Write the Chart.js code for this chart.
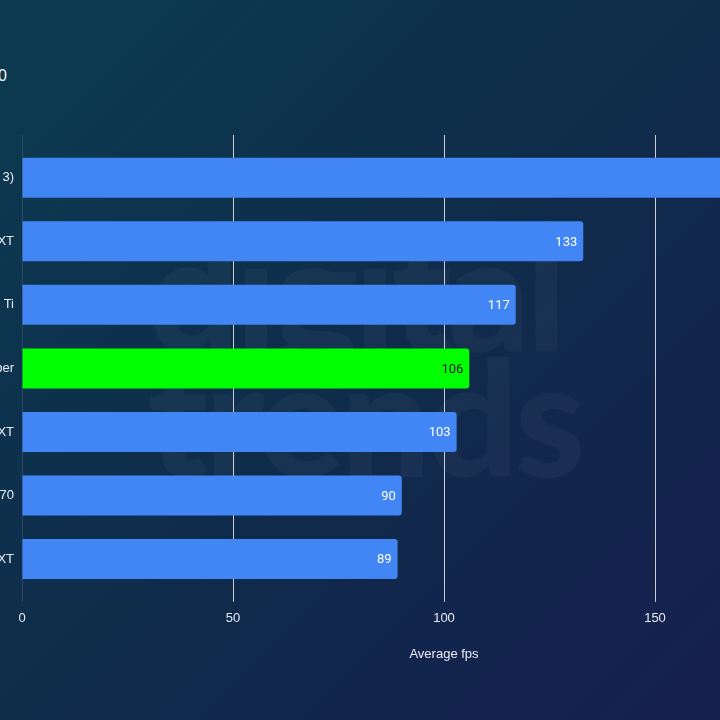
<!DOCTYPE html>
<html>
<head>
<meta charset="utf-8">
<script src="https://cdn.jsdelivr.net/npm/chart.js@4"></script>
<style>
  html, body { margin: 0; padding: 0; }
  body {
    width: 720px; height: 720px; overflow: hidden; position: relative;
    background: linear-gradient(135deg, #0b3b51 0%, #0f2c4b 50%, #161f4f 100%);
  }
  #wrap { position: absolute; left: -200px; top: 0; width: 1100px; height: 720px; }
  #title {
    position: absolute; right: 713px; top: 67px; white-space: nowrap;
    color: #f2f4f8; font: 16px "Liberation Sans", Arial, sans-serif;
  }
  #mark {
    position: absolute; left: 148px; top: 228px; color: rgba(255,255,255,0.035);
    font: 900 160px/125px Lato, sans-serif; letter-spacing: -4px; pointer-events: none;
  }
</style>
</head>
<body>
<div id="mark">digital<br>trends</div>
<div id="title">Cyberpunk 2077 at 1080</div>
<div id="wrap"><canvas id="chart" width="1100" height="720"></canvas></div>
<script>
const gpus = ["RTX 4070 Super (DLSS 3)", "RX 7900 XT", "RTX 4070 Ti", "RTX 4070 Super", "RX 6950 XT", "RTX 4070", "RX 7800 XT"];
const fps = [172, 133, 117, 106, 103, 90, 89];
const barColors = ["#4285f4", "#4285f4", "#4285f4", "#00ff00", "#4285f4", "#4285f4", "#4285f4"];
const labelColors = ["#ffffff", "#ffffff", "#ffffff", "#111111", "#ffffff", "#ffffff", "#ffffff"];
const xTicks = [0, 50, 100, 150, 200];

const gridColor = (c) => (c.tick && c.tick.value === 0) ? "rgba(255,255,255,0.12)" : "#c9ced6";

// value labels at the end of each bar
const valueLabels = {
    id: "valueLabels",
    afterDatasetsDraw(chart) {
        const ctx = chart.ctx;
        const meta = chart.getDatasetMeta(0);
        ctx.save();
        ctx.font = "13px Roboto, sans-serif";
        ctx.textAlign = "right";
        ctx.textBaseline = "middle";
        meta.data.forEach((bar, i) => {
            ctx.fillStyle = labelColors[i];
            ctx.fillText(String(fps[i]), bar.x - 6, bar.y + 1);
        });
        ctx.restore();
    }
};

const ctx = document.getElementById("chart").getContext("2d");
new Chart(ctx, {
    type: "bar",
    data: {
        labels: gpus,
        datasets: [{
            data: fps,
            backgroundColor: barColors,
            borderRadius: 3,
            barPercentage: 0.63,
            categoryPercentage: 1
        }]
    },
    options: {
        indexAxis: "y",
        responsive: false,
        animation: false,
        devicePixelRatio: 1,
        layout: { padding: { left: 0, right: 34, top: 135, bottom: 58 } },
        plugins: { legend: { display: false }, tooltip: { enabled: false } },
        scales: {
            x: {
                min: xTicks[0], max: xTicks[xTicks.length - 1],
                afterBuildTicks: (s) => { s.ticks = xTicks.map(v => ({ value: v })); },
                grid: { color: gridColor, tickColor: gridColor, tickLength: 11 },
                border: { display: false },
                ticks: { color: "#e8ebf1", padding: 9, font: { size: 13, family: "'Liberation Sans', Arial, sans-serif" } },
                title: {
                    display: true, text: "Average fps", color: "#e8ebf1",
                    padding: { top: 11, bottom: 0 },
                    font: { size: 13, family: "'Liberation Sans', Arial, sans-serif" }
                }
            },
            x2: {
                axis: "x", position: "top",
                min: xTicks[0], max: xTicks[xTicks.length - 1],
                afterBuildTicks: (s) => { s.ticks = xTicks.map(v => ({ value: v })); },
                grid: { drawOnChartArea: false, color: gridColor, tickColor: gridColor, tickLength: 11 },
                border: { display: false },
                ticks: { display: false }
            },
            y: {
                grid: { display: false },
                border: { display: false },
                afterFit: (s) => { s.width = 222; },
                ticks: { color: "#e8ebf1", padding: 0, font: { size: 13, family: "'Liberation Sans', Arial, sans-serif" } }
            }
        }
    },
    plugins: [valueLabels]
});
</script>
</body>
</html>
